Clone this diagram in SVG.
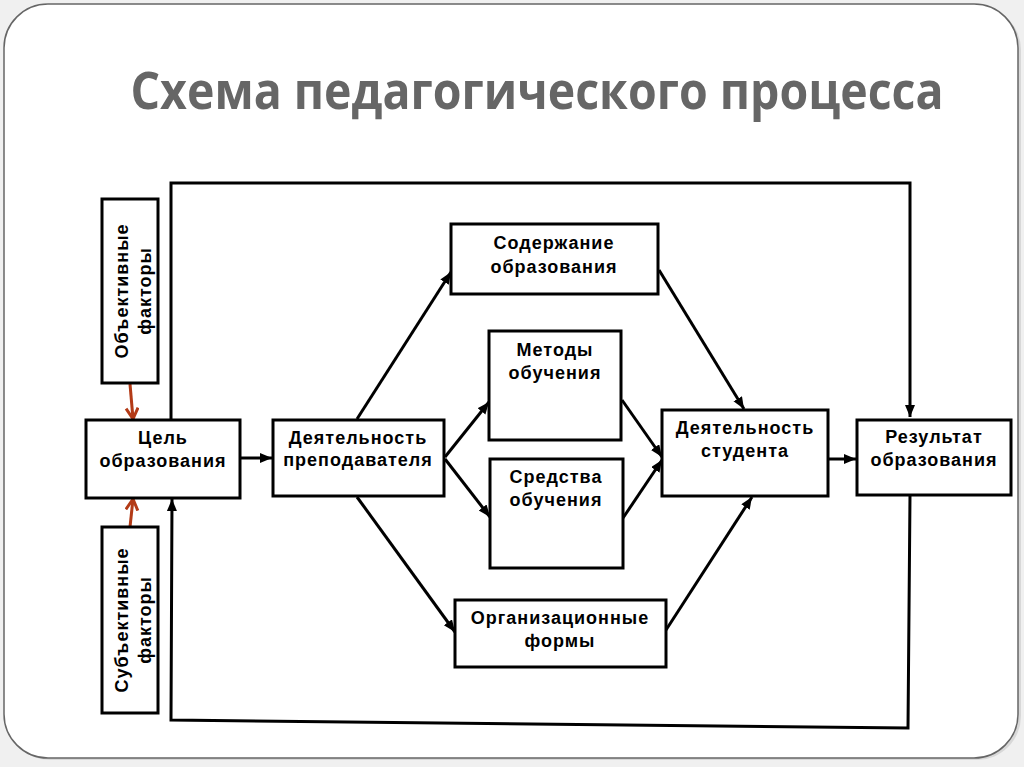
<svg xmlns="http://www.w3.org/2000/svg" width="1024" height="767" viewBox="0 0 1024 767">
<style>
.box{fill:#fff;stroke:#000;stroke-width:3}
.lbl{font-family:"Liberation Sans",Arial,sans-serif;font-weight:bold;font-size:18px;fill:#000;text-anchor:middle;letter-spacing:1px}
.ln{fill:none;stroke:#000;stroke-width:3}
.red{fill:none;stroke:#b33a16;stroke-width:3}
</style>
<defs>
<marker id="ah" markerUnits="userSpaceOnUse" markerWidth="14" markerHeight="12" refX="12" refY="5" orient="auto">
<path d="M0,0 L12,5 L0,10 z" fill="#000"/>
</marker>
<marker id="rh" markerUnits="userSpaceOnUse" markerWidth="16" markerHeight="16" refX="12" refY="7" orient="auto">
<path d="M1,1 L12,7 L1,13" fill="none" stroke="#b33a16" stroke-width="3"/>
</marker>
</defs>
<rect x="0" y="0" width="1024" height="767" fill="#f0f0f0"/>
<rect x="6" y="6" width="1015" height="754" rx="44" ry="44" fill="#d8d8d8"/>
<rect x="4" y="4" width="1014" height="754" rx="44" ry="44" fill="#fff" stroke="#666" stroke-width="1.5"/>
<text transform="translate(537,109) scale(1,1.12)" x="0" y="0" font-family="'Open Sans','DejaVu Sans',sans-serif" font-weight="bold" font-size="46.5" fill="#666" text-anchor="middle">Схема педагогического процесса</text>

<g id="connectors">
<polyline class="ln" points="171,420 171,183 910,183 910,417" marker-end="url(#ah)"/>
<polyline class="ln" points="910,495 908,728 171,720 172,499" marker-end="url(#ah)"/>
<line class="ln" x1="240" y1="458" x2="272" y2="458" marker-end="url(#ah)"/>
<line class="ln" x1="357" y1="419" x2="451" y2="272" marker-end="url(#ah)"/>
<line class="ln" x1="445" y1="457" x2="489" y2="402" marker-end="url(#ah)"/>
<line class="ln" x1="445" y1="459" x2="490" y2="517" marker-end="url(#ah)"/>
<line class="ln" x1="357" y1="497" x2="455" y2="632" marker-end="url(#ah)"/>
<line class="ln" x1="659" y1="270" x2="744" y2="409" marker-end="url(#ah)"/>
<line class="ln" x1="622" y1="400" x2="662" y2="457" marker-end="url(#ah)"/>
<line class="ln" x1="623" y1="518" x2="662" y2="460" marker-end="url(#ah)"/>
<line class="ln" x1="666" y1="630" x2="752" y2="497" marker-end="url(#ah)"/>
<line class="ln" x1="828" y1="459" x2="856" y2="459" marker-end="url(#ah)"/>
<line class="red" x1="130" y1="384" x2="133" y2="419" marker-end="url(#rh)"/>
<line class="red" x1="130" y1="527" x2="133" y2="499" marker-end="url(#rh)"/>
</g>

<g id="objective">
<rect class="box" x="102" y="199" width="56" height="184"/>
<text class="lbl" transform="translate(130,291) rotate(-90)"><tspan x="0" y="-2">Объективные</tspan><tspan x="0" y="21">факторы</tspan></text>
</g>
<g id="subjective">
<rect class="box" x="102" y="527" width="56" height="186"/>
<text class="lbl" transform="translate(130,620) rotate(-90)"><tspan x="0" y="-2">Субъективные</tspan><tspan x="0" y="21">факторы</tspan></text>
</g>
<g id="goal">
<rect class="box" x="86" y="420" width="154" height="78"/>
<text class="lbl"><tspan x="163" y="444">Цель</tspan><tspan x="163" y="467">образования</tspan></text>
</g>
<g id="teacher">
<rect class="box" x="273" y="420" width="171" height="76"/>
<text class="lbl"><tspan x="358" y="444">Деятельность</tspan><tspan x="358" y="466">преподавателя</tspan></text>
</g>
<g id="content">
<rect class="box" x="451" y="224" width="207" height="70"/>
<text class="lbl"><tspan x="554" y="249">Содержание</tspan><tspan x="554" y="273">образования</tspan></text>
</g>
<g id="methods">
<rect class="box" x="489" y="331" width="132" height="109"/>
<text class="lbl"><tspan x="555" y="356">Методы</tspan><tspan x="555" y="379">обучения</tspan></text>
</g>
<g id="means">
<rect class="box" x="490" y="459" width="133" height="109"/>
<text class="lbl"><tspan x="556" y="483">Средства</tspan><tspan x="556" y="506">обучения</tspan></text>
</g>
<g id="forms">
<rect class="box" x="455" y="600" width="211" height="67"/>
<text class="lbl"><tspan x="560" y="624">Организационные</tspan><tspan x="560" y="647">формы</tspan></text>
</g>
<g id="student">
<rect class="box" x="662" y="410" width="166" height="86"/>
<text class="lbl"><tspan x="745" y="434">Деятельность</tspan><tspan x="745" y="457">студента</tspan></text>
</g>
<g id="result">
<rect class="box" x="857" y="420" width="154" height="75"/>
<text class="lbl"><tspan x="934" y="443">Результат</tspan><tspan x="934" y="466">образования</tspan></text>
</g>
</svg>
